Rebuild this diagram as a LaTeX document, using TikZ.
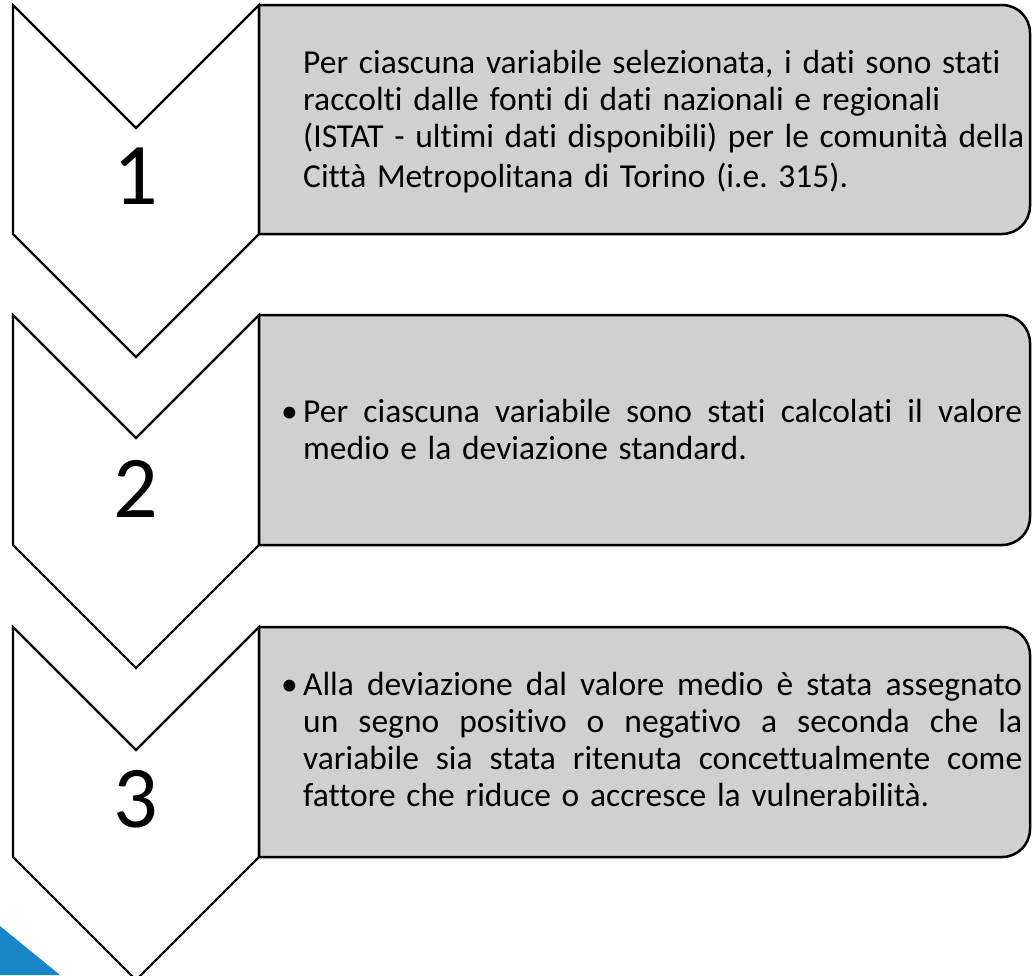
\documentclass[tikz,border=0pt]{standalone}
\usepackage{fontspec}
\setmainfont{Carlito}[Ligatures={NoCommon}]
\definecolor{boxgray}{HTML}{D0D0D0}
\definecolor{triblue}{HTML}{1787C7}
\newcommand{\jline}[1]{\makebox[719pt][s]{#1}}
\newcommand{\bul}{\llap{\makebox[22pt][l]{•}}}
\newcommand{\txtfont}{\fontsize{33.5}{37.3}\selectfont\frenchspacing\spaceskip=.32em plus 1em minus .05em\relax}
\begin{document}
\begin{tikzpicture}[x=1pt,y=-1pt,
  chev/.style={draw=black, fill=white, line width=2.3pt, line join=miter},
  stepbox/.style={draw=black, fill=boxgray, line width=2.5pt, line join=miter},
  num/.style={anchor=base, inner sep=0pt, font=\fontsize{88}{88}\selectfont},
  txt/.style={anchor=base west, inner sep=0pt, text width=745pt, align=flush left,
    font=\txtfont}]
\useasboundingbox (0,0) rectangle (1032,975);
\fill[white] (0,0) rectangle (1032,975);
% chevrons
\draw[chev] (13,5) -- (136,128) -- (259,5) -- (259,234) -- (136,357) -- (13,234) -- cycle;
\draw[chev] (13,315) -- (136,438) -- (259,315) -- (259,545) -- (136,668) -- (13,545) -- cycle;
\draw[chev] (13,627) -- (136,750) -- (259,627) -- (259,857) -- (136,980) -- (13,857) -- cycle;
% boxes
\draw[stepbox] (259,5) -- (1002,5) .. controls (1017.5,5) and (1030,17.5) .. (1030,33)
  -- (1030,206) .. controls (1030,221.5) and (1017.5,234) .. (1002,234) -- (259,234) -- cycle;
\draw[stepbox] (259,315) -- (1002,315) .. controls (1017.5,315) and (1030,327.5) .. (1030,343)
  -- (1030,517) .. controls (1030,532.5) and (1017.5,545) .. (1002,545) -- (259,545) -- cycle;
\draw[stepbox] (259,627) -- (1002,627) .. controls (1017.5,627) and (1030,639.5) .. (1030,655)
  -- (1030,829) .. controls (1030,844.5) and (1017.5,857) .. (1002,857) -- (259,857) -- cycle;
% numbers
\node[num] (n1) at (136,204) {1};
\node[num] (n2) at (136,517) {2};
\node[num] (n3) at (136,827) {3};
% texts
\node[txt] (t1) at (303,73) {Per ciascuna variabile selezionata, i dati sono stati\\
raccolti dalle fonti di dati nazionali e regionali\\
(ISTAT - ultimi dati disponibili) per le comunità della\\[3pt]
Città Metropolitana di Torino (i.e. 315).};
\node[txt] (t2) at (303,422) {\bul\jline{Per ciascuna variabile sono stati calcolati il valore}\\
medio e la deviazione standard.};
\node[txt] (t3) at (303,695) {\bul\jline{Alla deviazione dal valore medio è stata assegnato}\\
\jline{un segno positivo o negativo a seconda che la}\\
\jline{variabile sia stata ritenuta concettualmente come}\\
fattore che riduce o accresce la vulnerabilità.};
% blue corner
\fill[triblue] (0,926) -- (60,975) -- (0,975) -- cycle;
\end{tikzpicture}
\end{document}
